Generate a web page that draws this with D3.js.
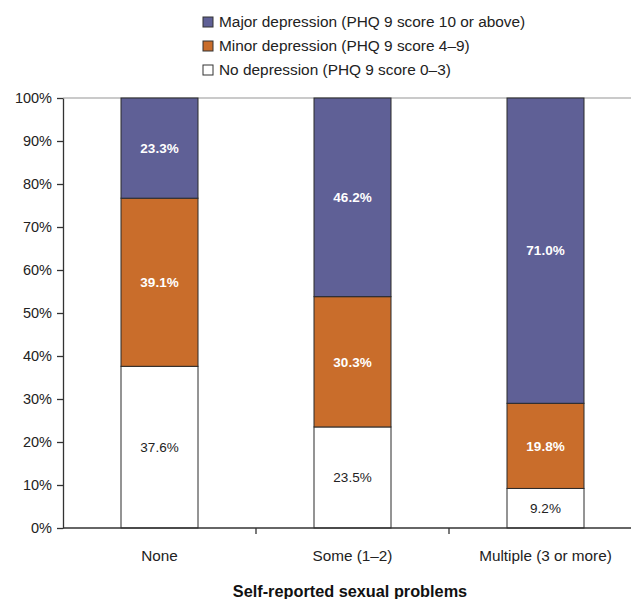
<!DOCTYPE html>
<html>
<head>
<meta charset="utf-8">
<script src="https://cdn.jsdelivr.net/npm/d3@7"></script>
<style>
  body { margin: 0; background: #fff; }
  svg { display: block; font-family: "Liberation Sans", Arial, sans-serif; }
</style>
</head>
<body>
<div id="chart"></div>
<script>
// Chart data
const categories = ["None", "Some (1\u20132)", "Multiple (3 or more)"];
const seriesNames = ["none", "minor", "major"];
const noDepression = [37.6, 23.5, 9.2];
const minorDepression = [39.1, 30.3, 19.8];
const majorDepression = [23.3, 46.2, 71.0];
const yTicks = [0, 10, 20, 30, 40, 50, 60, 70, 80, 90, 100];
const legendLabels = [
  "Major depression (PHQ 9 score 10 or above)",
  "Minor depression (PHQ 9 score 4\u20139)",
  "No depression (PHQ 9 score 0\u20133)"
];

const COLORS = { major: "#5f6096", minor: "#c96d2b", none: "#ffffff" };

const width = 631, height = 599;
const margin = { top: 98, left: 63, bottom: 71 };

const svg = d3.select("#chart").append("svg")
  .attr("width", width)
  .attr("height", height);

const x = d3.scaleBand()
  .domain(categories)
  .range([margin.left, 642])
  .paddingInner(0)
  .paddingOuter(0);

const y = d3.scaleLinear()
  .domain([0, 100])
  .range([height - margin.bottom, margin.top]);

const rows = categories.map((c, i) => ({
  category: c,
  none: noDepression[i],
  minor: minorDepression[i],
  major: majorDepression[i]
}));

const stacked = d3.stack().keys(seriesNames)(rows);

// Top border line
svg.append("line")
  .attr("x1", margin.left).attr("x2", width)
  .attr("y1", y(100)).attr("y2", y(100))
  .attr("stroke", "#b8b8b8")
  .attr("stroke-width", 1.5);

const barWidth = 77;

// Bars
const layers = svg.append("g").selectAll("g")
  .data(stacked)
  .join("g")
  .attr("fill", d => COLORS[d.key]);

layers.selectAll("rect")
  .data(d => d)
  .join("rect")
  .attr("x", d => x(d.data.category) + x.bandwidth() / 2 - barWidth / 2)
  .attr("width", barWidth)
  .attr("y", d => y(d[1]))
  .attr("height", d => y(d[0]) - y(d[1]))
  .attr("stroke", "#2a2a2a")
  .attr("stroke-width", 1);

// Segment labels
stacked.forEach(layer => {
  svg.append("g").selectAll("text")
    .data(layer)
    .join("text")
    .attr("x", d => x(d.data.category) + x.bandwidth() / 2)
    .attr("y", d => y((d[0] + d[1]) / 2))
    .attr("dy", "0.35em")
    .attr("text-anchor", "middle")
    .attr("font-size", 13.5)
    .attr("font-weight", layer.key === "none" ? "normal" : "bold")
    .attr("fill", layer.key === "none" ? "#222" : "#fff")
    .text(d => (d[1] - d[0]).toFixed(1) + "%");
});

// Y axis
const yAxis = svg.append("g")
  .attr("transform", `translate(${margin.left},0)`)
  .call(d3.axisLeft(y).tickValues(yTicks).tickFormat(d => d + "%").tickSize(6).tickSizeOuter(0));
yAxis.select(".domain").attr("stroke", "#333").attr("stroke-width", 1.3);
yAxis.selectAll(".tick line").attr("stroke", "#333").attr("stroke-width", 1.3);
yAxis.selectAll(".tick text")
  .attr("x", -11)
  .attr("font-size", 14.5)
  .attr("font-family", "Liberation Sans, Arial, sans-serif")
  .attr("fill", "#222");

// X axis
const xAxis = svg.append("g")
  .attr("transform", `translate(0,${y(0)})`)
  .call(d3.axisBottom(x).tickValues([]).tickSizeOuter(0));
xAxis.select(".domain").attr("stroke", "#333").attr("stroke-width", 1.3)
  .attr("d", `M${margin.left},0H${width}`);

// Category boundary ticks
svg.append("g").selectAll("line")
  .data(categories.slice(1))
  .join("line")
  .attr("x1", d => x(d)).attr("x2", d => x(d))
  .attr("y1", y(0)).attr("y2", y(0) + 6)
  .attr("stroke", "#333")
  .attr("stroke-width", 1.3);

// Category labels
svg.append("g").selectAll("text")
  .data(categories)
  .join("text")
  .attr("x", d => x(d) + x.bandwidth() / 2)
  .attr("y", 561)
  .attr("text-anchor", "middle")
  .attr("font-size", 15.3)
  .attr("fill", "#222")
  .text(d => d);

// Axis title
svg.append("text")
  .attr("x", 350)
  .attr("y", 597)
  .attr("text-anchor", "middle")
  .attr("font-size", 16.3)
  .attr("font-weight", "bold")
  .attr("fill", "#111")
  .text("Self-reported sexual problems");

// Legend
const legendKeys = ["major", "minor", "none"];
const legend = svg.append("g").selectAll("g")
  .data(legendLabels)
  .join("g")
  .attr("transform", (d, i) => `translate(203,${22 + i * 24})`);

legend.append("rect")
  .attr("x", 0).attr("y", -5)
  .attr("width", 10).attr("height", 10)
  .attr("fill", (d, i) => COLORS[legendKeys[i]])
  .attr("stroke", "#333")
  .attr("stroke-width", 1);

legend.append("text")
  .attr("x", 16)
  .attr("dy", "0.35em")
  .attr("font-size", 15.4)
  .attr("fill", "#222")
  .text(d => d);
</script>
</body>
</html>
